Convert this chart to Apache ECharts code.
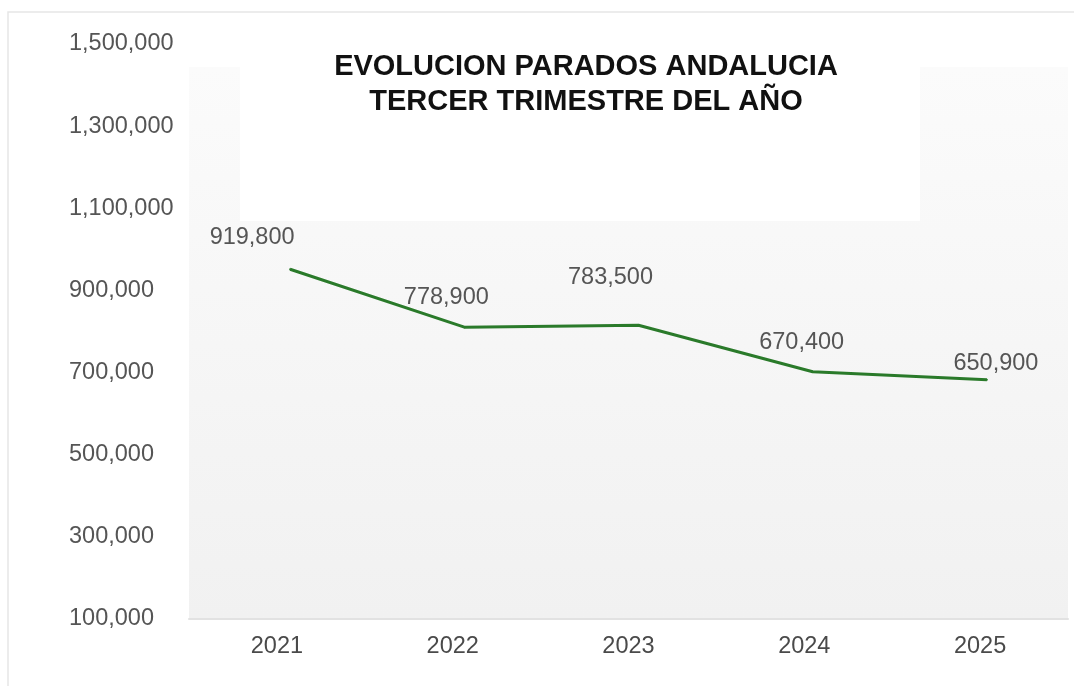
<!DOCTYPE html>
<html>
<head>
<meta charset="utf-8">
<script src="https://cdn.jsdelivr.net/npm/echarts@6/dist/echarts.min.js"></script>
<style>
  html, body { margin: 0; padding: 0; background: #fff; }
  #chart { width: 1074px; height: 686px; }
</style>
</head>
<body>
<div id="chart"></div>
<script>
  // datos
  var years = ['2021', '2022', '2023', '2024', '2025'];
  var parados = [919800, 778900, 783500, 670400, 650900];
  var yMin = 100000;
  var yMax = 1500000;
  var yStep = 100000;

  // desplazamiento de las etiquetas de cada punto (como en el original)
  var labelShift = [[-38, -19], [-18, -17], [-28, -35], [-11, -16], [9, -3]];

  var font = '"Liberation Sans", Arial, sans-serif';
  var myChart = echarts.init(document.getElementById('chart'));

  var seriesData = parados.map(function (v, i) {
    return {
      value: v,
      label: { offset: labelShift[i] }
    };
  });

  var option = {
    backgroundColor: '#fff',
    animation: false,
    title: {
      text: 'EVOLUCION PARADOS ANDALUCIA\nTERCER TRIMESTRE DEL AÑO',
      left: 581,
      top: 44,
      textAlign: 'center',
      textStyle: {
        fontFamily: font,
        fontSize: 29,
        fontWeight: 'bold',
        color: '#111',
        lineHeight: 35
      }
    },
    graphic: [
      {
        type: 'rect', z: -10, silent: true,
        shape: { x: 8, y: 12, width: 1080, height: 690 },
        style: { fill: '#fff', stroke: '#e6e6e6', lineWidth: 1.5 }
      },
      {
        type: 'rect', z: -9, silent: true,
        shape: { x: 189, y: 67, width: 879, height: 552 },
        style: {
          fill: {
            type: 'linear', x: 0, y: 0, x2: 0, y2: 1,
            colorStops: [{ offset: 0, color: '#fbfbfb' }, { offset: 1, color: '#f1f1f1' }]
          }
        }
      },
      {
        type: 'rect', z: -8, silent: true,
        shape: { x: 240, y: 65, width: 680, height: 156 },
        style: { fill: '#fff' }
      }
    ],
    grid: [
      { left: 189, right: 6, top: 44, bottom: 67 },
      { left: 203, right: -8, top: 31, bottom: 80 }
    ],
    xAxis: [
      {
        type: 'category',
        gridIndex: 0,
        data: years,
        axisTick: { show: false },
        axisLine: { lineStyle: { color: '#e2e2e2', width: 2 } },
        axisLabel: { fontFamily: font, fontSize: 23.5, color: '#4a4a4a', margin: 16 }
      },
      {
        type: 'category',
        gridIndex: 1,
        data: years,
        show: false
      }
    ],
    yAxis: [
      {
        type: 'value',
        gridIndex: 0,
        min: yMin,
        max: yMax,
        interval: yStep,
        splitLine: { show: false },
        axisLine: { show: false },
        axisTick: { show: false },
        axisLabel: {
          fontFamily: font, fontSize: 23.5, color: '#555',
          align: 'left', margin: 120,
          formatter: function (v) {
            if (((v - yMin) / yStep) % 2 !== 0) return '';
            return v.toLocaleString('en-US');
          }
        }
      },
      {
        type: 'value',
        gridIndex: 1,
        min: yMin,
        max: yMax,
        show: false
      }
    ],
    series: [
      {
        name: 'Parados',
        type: 'line',
        xAxisIndex: 1,
        yAxisIndex: 1,
        data: seriesData,
        symbol: 'circle',
        symbolSize: 2,
        showSymbol: true,
        lineStyle: { color: '#2a7a2a', width: 3 },
        itemStyle: { color: '#2a7a2a' },
        label: {
          show: true,
          position: 'top',
          distance: 0,
          fontFamily: font,
          fontSize: 23.5,
          color: '#555',
          formatter: function (p) { return p.value.toLocaleString('en-US'); }
        }
      }
    ]
  };

  myChart.setOption(option);
</script>
</body>
</html>
